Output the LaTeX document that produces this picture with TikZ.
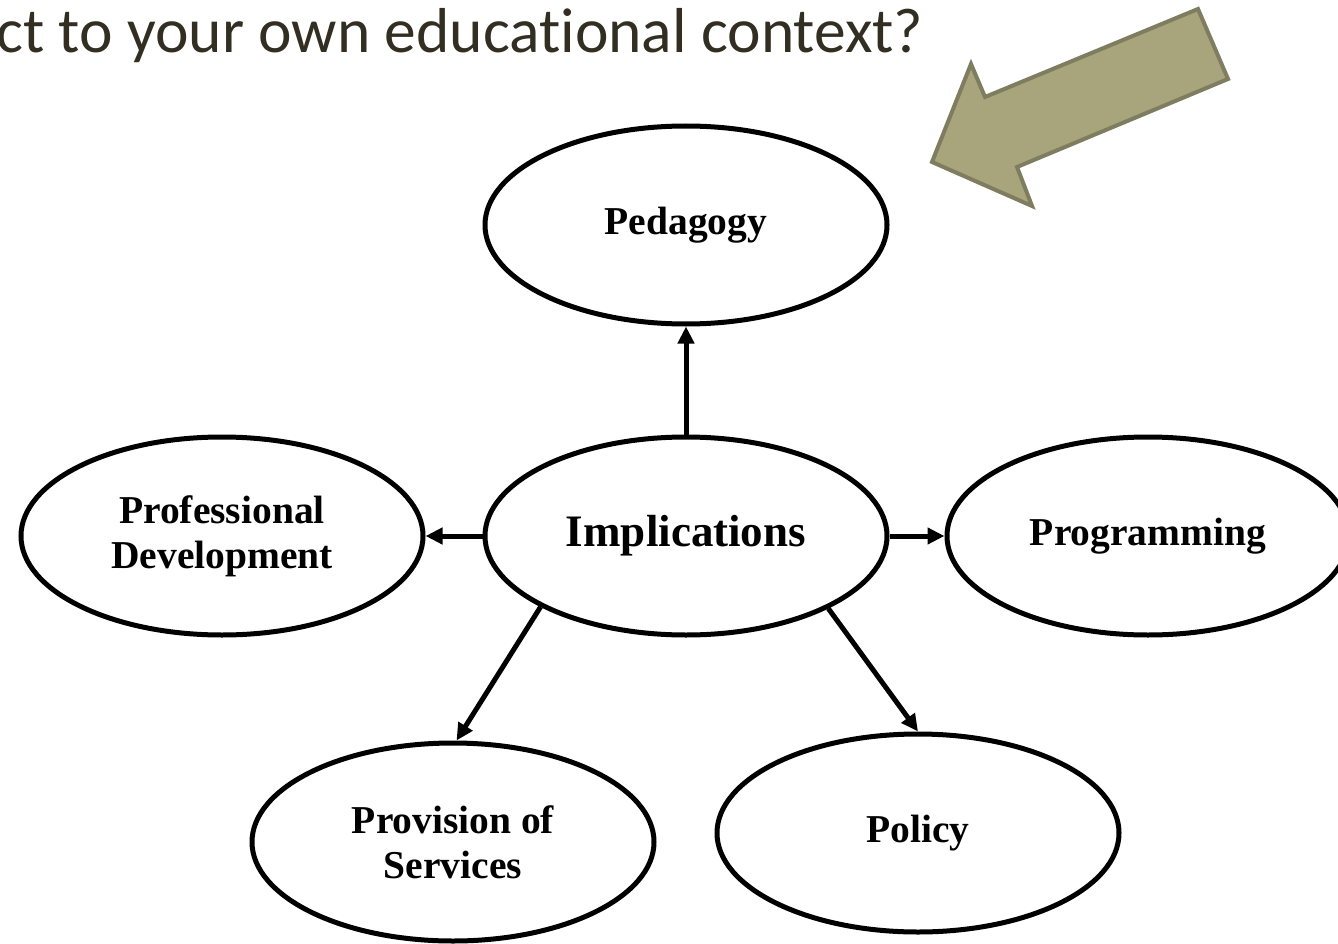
\documentclass[tikz,border=0pt]{standalone}
\usepackage{fontspec}
\setmainfont{Liberation Serif}
\newfontfamily\headfont[Ligatures=NoCommon]{Carlito}
\usepackage{xcolor}
\usetikzlibrary{shapes.geometric,arrows.meta}

\definecolor{headtext}{RGB}{50,46,34}
\definecolor{olivefill}{RGB}{168,165,125}
\definecolor{olivedraw}{RGB}{127,125,95}

\begin{document}
\begin{tikzpicture}[x=1pt,y=-1pt,
  topic/.style={ellipse, draw, line width=5pt, inner sep=0pt,
    minimum width=402pt, minimum height=198pt, align=center,
    font=\fontsize{39.5}{45}\selectfont\bfseries},
  link/.style={-{Triangle[length=17pt,width=16pt]}, line width=5pt}]
  \useasboundingbox (0,0) rectangle (1338,944);
  \clip (0,0) rectangle (1338,944);

  \node[anchor=base west, inner sep=0pt, text=headtext,
    font=\headfont\fontsize{63.5}{70}\selectfont] (head) at (-4,53)
    {ct to your own educational context?};

  \filldraw[fill=olivefill, draw=olivedraw, line width=4pt, line join=miter]
    (1198,9) -- (1228,79) -- (1017,167) -- (1032,206) -- (932,162)
    -- (971,64) -- (985,97) -- cycle;

  \node[topic] (ped)  at (686,225) {Pedagogy};
  \node[topic, font=\fontsize{45}{50}\selectfont\bfseries] (impl) at (686,536) {Implications};
  \node[topic] (prof) at (222,536) {Professional\\Development};
  \node[topic] (prog) at (1148,536) {Programming};
  \node[topic] (prov) at (453,842) {Provision of\\Services};
  \node[topic] (pol)  at (918,833) {Policy};

  \draw[link] (impl.north) -- (ped.south);
  \draw[link] (impl.west) -- (prof.east);
  \draw[link] (impl.east) -- (prog.west);
  \draw[link] (impl.206.6) -- (prov.88);
  \draw[link] (impl.333.7) -- (pol.north);
\end{tikzpicture}
\end{document}
